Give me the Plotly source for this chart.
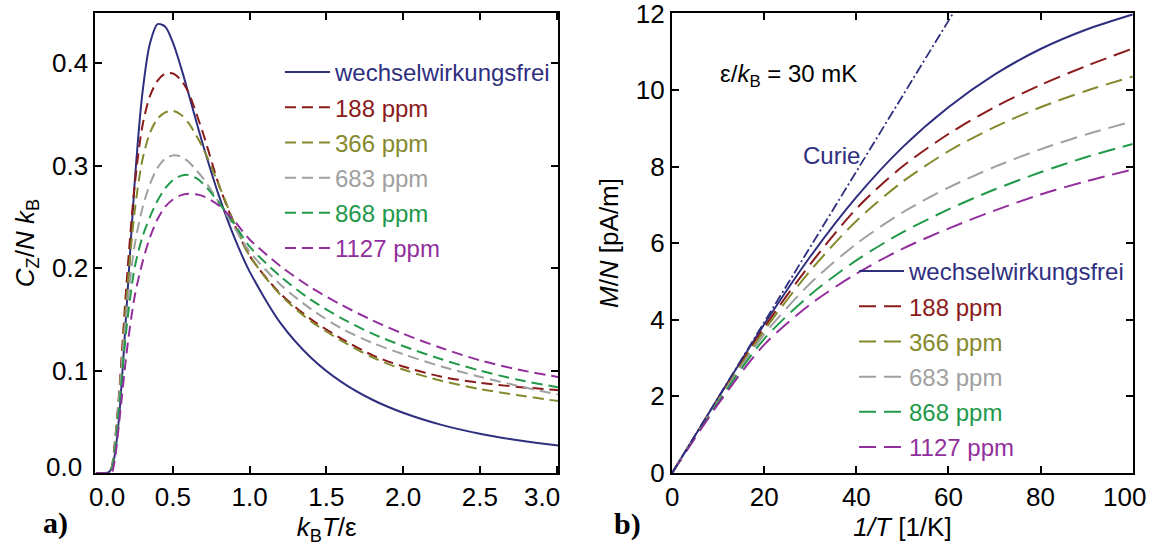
import plotly.graph_objects as go

# ---------------- data: panel a) ----------------
x_a = [0, 0.05, 0.08, 0.1, 0.12, 0.15, 0.2, 0.25, 0.3, 0.35, 0.4, 0.45, 0.5, 0.55, 0.6,
       0.65, 0.7, 0.8, 0.9, 1.0, 1.2, 1.4, 1.6, 1.8, 2.0, 2.25, 2.5, 2.75, 3.0, 3.05]
c_free = [0, 0, 0.0006, 0.0045, 0.0167, 0.0564, 0.1663, 0.2824, 0.3695, 0.4192, 0.4382, 0.4357,
          0.4200, 0.3972, 0.3712, 0.3444, 0.3183, 0.2705, 0.2300, 0.1966, 0.1466, 0.1126, 0.0887,
          0.0715, 0.0588, 0.0470, 0.0384, 0.0320, 0.0270, 0.0262]
c_188 = [0, 0, 0, 0.005, 0.028, 0.08, 0.19, 0.28, 0.338, 0.368, 0.383, 0.39, 0.39, 0.384, 0.372,
         0.352, 0.33, 0.281, 0.243, 0.212, 0.175, 0.150, 0.131, 0.115, 0.104, 0.094, 0.088, 0.084, 0.081, 0.080]
c_366 = [0, 0, 0, 0.005, 0.026, 0.075, 0.175, 0.255, 0.305, 0.332, 0.346, 0.352, 0.3535, 0.35, 0.342,
         0.33, 0.316, 0.281, 0.244, 0.212, 0.174, 0.148, 0.129, 0.113, 0.101, 0.090, 0.082, 0.076, 0.0705, 0.070]
c_683 = [0, 0, 0, 0.004, 0.024, 0.075, 0.16, 0.222, 0.258, 0.282, 0.298, 0.307, 0.31, 0.309, 0.304,
         0.296, 0.287, 0.264, 0.240, 0.216, 0.184, 0.160, 0.141, 0.127, 0.116, 0.104, 0.094, 0.085, 0.077, 0.076]
c_868 = [0, 0, 0, 0.003, 0.02, 0.065, 0.145, 0.2, 0.23, 0.25, 0.266, 0.278, 0.286, 0.29, 0.291,
         0.288, 0.282, 0.264, 0.243, 0.221, 0.192, 0.169, 0.151, 0.136, 0.124, 0.111, 0.100, 0.091, 0.084, 0.083]
c_1127 = [0, 0, 0, 0.0, 0.012, 0.05, 0.12, 0.172, 0.205, 0.23, 0.248, 0.26, 0.267, 0.271, 0.2725,
          0.272, 0.27, 0.261, 0.246, 0.228, 0.202, 0.181, 0.164, 0.149, 0.136, 0.122, 0.110, 0.101, 0.094, 0.093]
ticks_a = [0, 0.5, 1.0, 1.5, 2.0, 2.5, 3.0]
ticklabels_a = ["\u2007\u20080.0", "0.5", "1.0", "1.5", "2.0", "2.5", "3.0\u2007\u2007"]
yticks_a = [0, 0.1, 0.2, 0.3, 0.4]
yticklabels_a = ["", "0.1", "0.2", "0.3", "0.4"]   # "0.0" drawn slightly raised, as in the original

# ---------------- data: panel b) ----------------
x_b = [0, 10, 20, 30, 40, 50, 60, 70, 80, 90, 100]
m_free = [0, 1.96, 3.88, 5.65, 7.20, 8.50, 9.55, 10.40, 11.07, 11.58, 11.97]
m_188 = [0, 1.93, 3.80, 5.45, 6.90, 8.00, 8.85, 9.55, 10.13, 10.63, 11.08]
m_366 = [0, 1.90, 3.72, 5.28, 6.58, 7.60, 8.40, 9.03, 9.55, 9.98, 10.35]
m_683 = [0, 1.88, 3.62, 4.95, 5.98, 6.80, 7.45, 7.99, 8.45, 8.84, 9.18]
m_868 = [0, 1.85, 3.50, 4.65, 5.55, 6.28, 6.88, 7.40, 7.85, 8.25, 8.59]
m_1127 = [0, 1.80, 3.35, 4.40, 5.20, 5.85, 6.38, 6.85, 7.27, 7.62, 7.92]
x_curie = [0, 61.5]
m_curie = [0, 12.1]
ticks_b = [0, 20, 40, 60, 80, 100]
ticklabels_b = ["0", "20", "40", "60", "80", ""]   # "100" drawn pulled inside the frame
yticks_b = [0, 2, 4, 6, 8, 10, 12]

names = ["wechselwirkungsfrei", "188 ppm", "366 ppm", "683 ppm", "868 ppm", "1127 ppm"]
colors = ["#2f2f7f", "#8b1a1a", "#85892d", "#a0a0a0", "#22994a", "#922f9c"]

FONT = "Liberation Sans, Arial, sans-serif"

fig = go.Figure()

series_a = [c_free, c_188, c_366, c_683, c_868, c_1127]
series_b = [m_free, m_188, m_366, m_683, m_868, m_1127]

for i, (nm, col) in enumerate(zip(names, colors)):
    dash = "solid" if i == 0 else "11px,6px"
    fig.add_trace(go.Scatter(
        x=x_a, y=series_a[i], mode="lines",
        line=dict(color=col, width=2, dash=dash, shape="spline", smoothing=0.8),
        name=f'<span style="color:{col}">{nm}</span>',
        legend="legend", legendgroup=f"a{i}", xaxis="x", yaxis="y"))

for i, (nm, col) in enumerate(zip(names, colors)):
    dash = "solid" if i == 0 else "17px,8px"
    fig.add_trace(go.Scatter(
        x=x_b, y=series_b[i], mode="lines",
        line=dict(color=col, width=2, dash=dash, shape="spline", smoothing=0.8),
        name=f'<span style="color:{col}">{nm}</span>',
        legend="legend2", legendgroup=f"b{i}", xaxis="x2", yaxis="y2"))

fig.add_trace(go.Scatter(
    x=x_curie, y=m_curie, mode="lines",
    line=dict(color=colors[0], width=1.8, dash="10px,3px,2px,3px"),
    showlegend=False, xaxis="x2", yaxis="y2"))

axis_common = dict(
    showline=True, linewidth=2, linecolor="black", mirror="ticks",
    ticks="inside", ticklen=7, tickwidth=1.5, tickcolor="black",
    showgrid=False, zeroline=False, automargin=False,
    ticklabeloverflow="allow",
    tickfont=dict(family=FONT, size=26, color="black"),
)

TICKFONT = dict(family=FONT, size=26, color="black")

fig.update_layout(
    width=1153, height=552,
    margin=dict(l=0, r=0, t=0, b=0, autoexpand=False),
    paper_bgcolor="white", plot_bgcolor="white",
    font=dict(family=FONT, size=24, color="black"),
    xaxis=dict(domain=[0.0828, 0.4840], range=[-0.005, 3.01],
               tickmode="array", tickvals=ticks_a, ticktext=ticklabels_a,
               anchor="y",
               title=dict(text="<i>k</i><sub>B</sub><i>T</i>/ε", standoff=4,
                          font=dict(family=FONT, size=26)),
               **axis_common),
    yaxis=dict(domain=[0.1431, 0.9764], range=[0, 0.449],
               tickmode="array", tickvals=yticks_a, ticktext=yticklabels_a,
               anchor="x",
               title=dict(text="<i>C</i><sub>Z</sub>/<i>N k</i><sub>B</sub>", standoff=10,
                          font=dict(family=FONT, size=26)),
               **axis_common),
    xaxis2=dict(domain=[0.5828, 0.9827], range=[-0.05, 100.1],
                tickmode="array", tickvals=ticks_b, ticktext=ticklabels_b, anchor="y2",
                title=dict(text="<i>1/T</i> [1/K]", standoff=4,
                           font=dict(family=FONT, size=26)),
                **axis_common),
    yaxis2=dict(domain=[0.1431, 0.9764], range=[-0.005, 12.01],
                tickmode="array", tickvals=yticks_b, anchor="x2",
                title=dict(text="<i>M</i>/<i>N</i> [pA/m]", standoff=10,
                           font=dict(family=FONT, size=26)),
                **axis_common),
    legend=dict(x=0.2428, y=0.9095, xanchor="left", yanchor="top",
                bgcolor="rgba(0,0,0,0)", borderwidth=0, itemwidth=45,
                font=dict(family=FONT, size=24), tracegroupgap=1),
    legend2=dict(x=0.7407, y=0.549, xanchor="left", yanchor="top",
                 bgcolor="rgba(0,0,0,0)", borderwidth=0, itemwidth=45,
                 font=dict(family=FONT, size=24), tracegroupgap=1),
    annotations=[
        dict(text="Curie", x=34.5, y=8.3, xref="x2", yref="y2", showarrow=False,
             font=dict(family=FONT, size=24, color=colors[0])),
        dict(text="ε/<i>k</i><sub>B</sub> = 30 mK", x=10, y=10.38, xref="x2", yref="y2",
             xanchor="left", showarrow=False, font=dict(family=FONT, size=24, color="black")),
        # edge tick labels nudged inward like the original
        dict(text="0.0", x=84 / 1153, y=1 - 467 / 552, xref="paper", yref="paper",
             xanchor="right", yanchor="middle", showarrow=False, font=TICKFONT),
        dict(text="100", x=1148 / 1153, y=1 - 497 / 552, xref="paper", yref="paper",
             xanchor="right", yanchor="middle", showarrow=False, font=TICKFONT),
        dict(text="<b>a)</b>", x=55 / 1153, y=1 - 523 / 552, xref="paper", yref="paper",
             xanchor="center", yanchor="middle", showarrow=False,
             font=dict(family="Liberation Serif, serif", size=30, color="black")),
        dict(text="<b>b)</b>", x=628 / 1153, y=1 - 524 / 552, xref="paper", yref="paper",
             xanchor="center", yanchor="middle", showarrow=False,
             font=dict(family="Liberation Serif, serif", size=30, color="black")),
    ],
)

fig.write_html("out.html")
